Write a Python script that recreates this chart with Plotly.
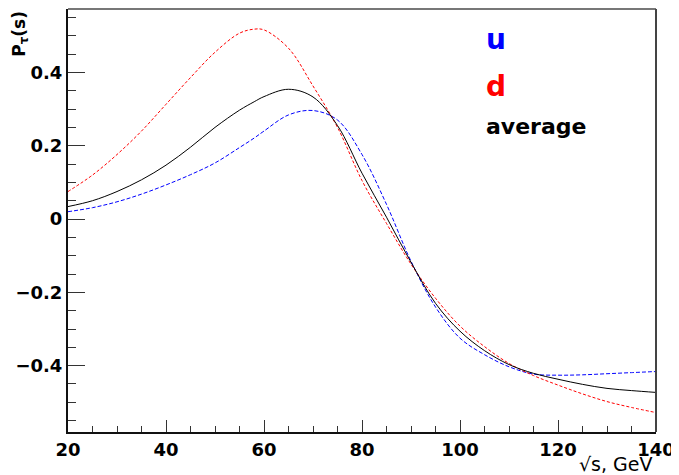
import plotly.graph_objects as go

# sqrt(s) in GeV
sqrt_s = [20, 25, 30, 35, 40, 45, 50, 55, 58, 60, 65, 70, 75, 80, 85, 90,
          95, 100, 105, 110, 115, 120, 125, 130, 135, 140]

p_u = [0.020, 0.031, 0.047, 0.068, 0.093, 0.121, 0.153, 0.195, 0.221, 0.240,
       0.284, 0.296, 0.270, 0.176, 0.040, -0.115, -0.240, -0.325, -0.370,
       -0.403, -0.423, -0.426, -0.425, -0.422, -0.419, -0.416]

p_d = [0.075, 0.120, 0.176, 0.240, 0.313, 0.386, 0.455, 0.507, 0.518, 0.516,
       0.466, 0.363, 0.250, 0.105, -0.012, -0.123, -0.216, -0.292, -0.348,
       -0.394, -0.427, -0.453, -0.477, -0.498, -0.514, -0.528]

p_avg = [0.034, 0.050, 0.075, 0.107, 0.147, 0.196, 0.250, 0.297, 0.320, 0.334,
         0.354, 0.333, 0.255, 0.125, 0.005, -0.118, -0.230, -0.306, -0.359,
         -0.397, -0.421, -0.437, -0.451, -0.462, -0.468, -0.473]

x_ticks = [20, 40, 60, 80, 100, 120, 140]
y_ticks = [-0.4, -0.2, 0, 0.2, 0.4]
y_ticktext = ["\u22120.4", "\u22120.2", "0", "0.2", "0.4"]

FONT = "DejaVu Sans"

fig = go.Figure()
fig.add_trace(go.Scatter(x=sqrt_s, y=p_u, mode="lines", name="u",
                         line=dict(color="#0000ff", width=1, dash="4px,2px",
                                   shape="spline", smoothing=1)))
fig.add_trace(go.Scatter(x=sqrt_s, y=p_d, mode="lines", name="d",
                         line=dict(color="#ff0000", width=1, dash="3px,2px",
                                   shape="spline", smoothing=1)))
fig.add_trace(go.Scatter(x=sqrt_s, y=p_avg, mode="lines", name="average",
                         line=dict(color="#000000", width=1,
                                   shape="spline", smoothing=1)))

# the page body adds an 8px offset, so the figure is sized to fit the window
fig.update_layout(
    width=671, height=467,
    margin=dict(l=60, r=23, t=1, b=43, autoexpand=False),
    paper_bgcolor="white", plot_bgcolor="white",
    showlegend=False,
    font=dict(family=FONT, color="black"),
)

fig.update_xaxes(
    range=[20, 140], tickvals=x_ticks, ticktext=[str(v) for v in x_ticks],
    ticks="inside", ticklen=12, tickwidth=1, tickcolor="#333",
    minor=dict(ticks="inside", ticklen=6, dtick=5, tick0=20, tickcolor="#333", tickwidth=1),
    showline=True, linecolor="#111", linewidth=2, mirror=False,
    showgrid=False, zeroline=False, automargin=False,
    tickfont=dict(family=FONT, size=18, weight="bold", color="black"),
)
fig.update_yaxes(
    range=[-0.581, 0.573], tickvals=y_ticks, ticktext=y_ticktext,
    ticks="inside", ticklen=17, tickwidth=1, tickcolor="#333",
    minor=dict(ticks="inside", ticklen=8, dtick=0.05, tick0=0, tickcolor="#333", tickwidth=1),
    showline=True, linecolor="#111", linewidth=2, mirror=False,
    showgrid=False, zeroline=False, automargin=False,
    tickfont=dict(family=FONT, size=18, weight="bold", color="black"),
)

# top and right frame
fig.add_shape(type="line", xref="paper", yref="paper", x0=0, x1=1, y0=1, y1=1,
              line=dict(color="#777", width=2))
fig.add_shape(type="line", xref="paper", yref="paper", x0=1, x1=1, y0=0, y1=1,
              line=dict(color="#444", width=2))

# axis titles
fig.add_annotation(text="P<sub>τ</sub>(s)", xref="paper", yref="paper",
                   x=-0.082, y=1.0, xanchor="center", yanchor="top", textangle=-90,
                   showarrow=False, font=dict(family=FONT, size=17, weight="bold", color="black"))
fig.add_annotation(text="√s, GeV", xref="paper", yref="paper",
                   x=0.999, y=-0.046, xanchor="right", yanchor="top",
                   showarrow=False, font=dict(family=FONT, size=19, color="black"))

# legend-like labels
fig.add_annotation(text="<b>u</b>", xref="paper", yref="paper", x=0.708, y=0.927,
                   xanchor="left", yanchor="middle", showarrow=False,
                   font=dict(family=FONT, size=28, color="#0000ff"))
fig.add_annotation(text="<b>d</b>", xref="paper", yref="paper", x=0.708, y=0.817,
                   xanchor="left", yanchor="middle", showarrow=False,
                   font=dict(family=FONT, size=28, color="#ff0000"))
fig.add_annotation(text="<b>average</b>", xref="paper", yref="paper", x=0.708, y=0.723,
                   xanchor="left", yanchor="middle", showarrow=False,
                   font=dict(family=FONT, size=22, color="black"))

fig.write_html("out.html")
